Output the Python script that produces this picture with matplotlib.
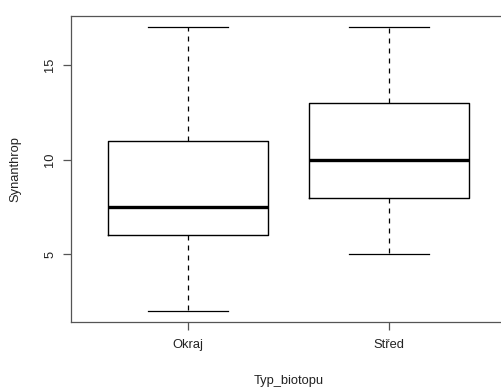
import matplotlib
matplotlib.use("Agg")
import matplotlib.pyplot as plt

plt.rcParams['font.family'] = ['Liberation Sans', 'DejaVu Sans']

# Five-number summaries per habitat type
categories = ["Okraj", "Střed"]
whisker_low = [2, 5]
q1 = [6, 8]
median = [7.5, 10]
q3 = [11, 13]
whisker_high = [17, 17]
yticks = [5, 10, 15]

W, H = 501, 387
fig = plt.figure(figsize=(W / 100, H / 100), dpi=100)
left, right, top, bottom = 71.4, 505.6, 16.0, 322.3
ax = fig.add_axes([left / W, 1 - bottom / H, (right - left) / W, (bottom - top) / H])

stats = []
for i, name in enumerate(categories):
    stats.append(dict(label=name, whislo=whisker_low[i], q1=q1[i], med=median[i],
                      q3=q3[i], whishi=whisker_high[i], fliers=[]))

positions = list(range(1, len(categories) + 1))
ax.bxp(stats, positions=positions, widths=0.8, showfliers=False,
       boxprops=dict(color="black", linewidth=1.0),
       medianprops=dict(color="black", linewidth=2.4, solid_capstyle="butt"),
       whiskerprops=dict(color="black", linewidth=0.9, linestyle=(0, (4, 4))),
       capprops=dict(color="black", linewidth=0.9),
       capwidths=0.4)

ax.set_xlim(0.42, 2.58)
ax.set_ylim(1.4, 17.6)
ax.set_xticks(positions)
ax.set_xticklabels(categories)
ax.set_yticks(yticks)
ax.set_yticklabels([str(v) for v in yticks], rotation=90, va="center")

ax.spines["right"].set_visible(False)
for s in ax.spines.values():
    s.set_color("#555555")
    s.set_linewidth(0.9)
ax.tick_params(axis="both", length=5.8, width=0.9, color="#555555",
               labelsize=9.3, labelcolor="#222222")
ax.tick_params(axis="x", pad=6.0)
ax.tick_params(axis="y", pad=5.0)

fig.text(288.5 / W, 1 - 381 / H, "Typ_biotopu", ha="center", va="center",
         fontsize=9.3, color="#222222")
fig.text(15.7 / W, 1 - 169 / H, "Synanthrop", ha="center", va="center",
         rotation=90, fontsize=9.3, color="#222222")

fig.savefig("out.png", dpi=100)
